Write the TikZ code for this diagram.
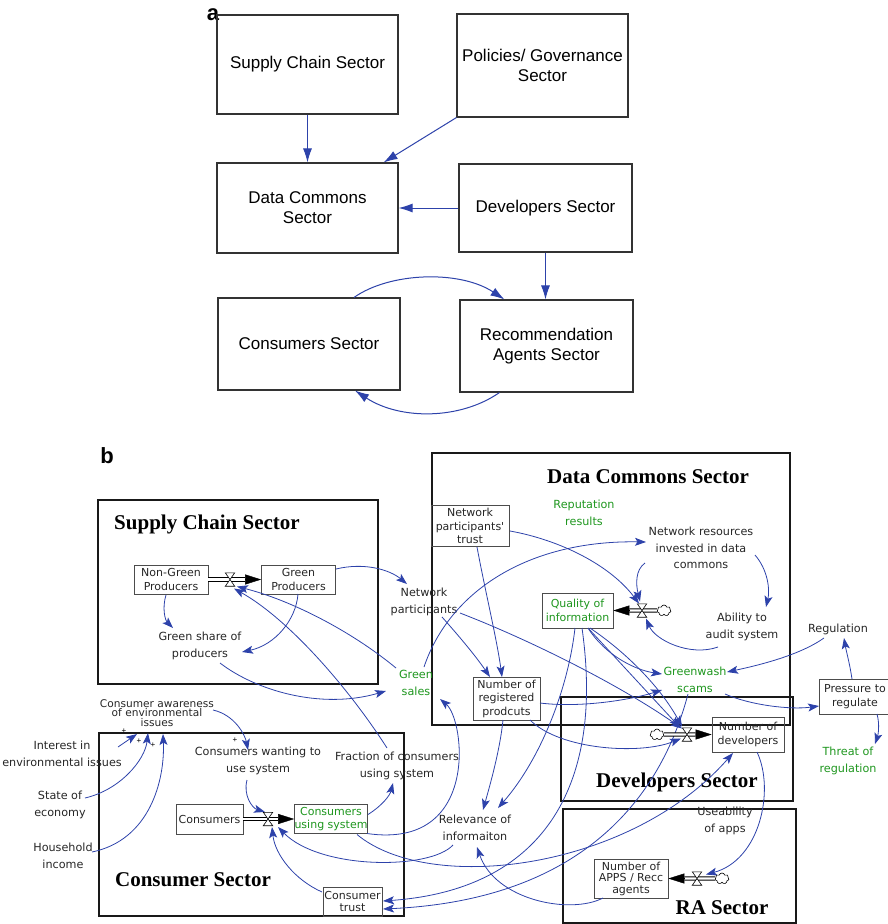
\documentclass[tikz,border=0pt]{standalone}
\usepackage{fontspec}
\setmainfont{Liberation Sans}
\newfontfamily\handfont{DejaVu Sans}
\newfontfamily\titlefont{Liberation Serif}
\usetikzlibrary{arrows.meta,calc,shapes.symbols}

\definecolor{linkblue}{RGB}{45,66,170}
\definecolor{vargreen}{RGB}{30,150,30}

\tikzset{
  abox/.style={draw=black!80, line width=1.1pt, align=center,
    font=\fontsize{17}{20}\selectfont, inner sep=0pt},
  alink/.style={draw=linkblue, line width=1pt, -{Latex[length=14pt,width=9pt]}},
  secbox/.style={draw=black!90, line width=1.5pt, inner sep=0pt},
  sectitle/.style={font=\titlefont\bfseries\fontsize{21}{24}\selectfont, inner sep=0pt},
  lbl/.style={font=\handfont\fontsize{11.2}{16.5}\selectfont, text=black!85,
    align=center, inner sep=0pt},
  glbl/.style={lbl, text=vargreen},
  stock/.style={draw=black!70, line width=0.7pt, align=center, inner sep=0pt,
    font=\handfont\fontsize{11}{13.5}\selectfont, text=black!85},
  gstock/.style={stock, text=vargreen},
  link/.style={draw=linkblue, line width=0.8pt,
    -{Stealth[length=11pt,width=8pt,inset=2.5pt]}},
  pipe/.style={draw=black, line width=0.85pt, double=white, double distance=2.4pt},
  flowtip/.style={draw=black, line width=0.4pt, -{Triangle[length=16pt,width=10pt]}},
  srccloud/.style={cloud, cloud puffs=7, aspect=1.3, draw=black, line width=0.6pt,
    fill=white, minimum width=14pt, minimum height=11pt, inner sep=0pt},
  plus/.style={font=\fontsize{8}{8}\selectfont, inner sep=0pt},
  panel/.style={font=\bfseries\fontsize{22}{22}\selectfont, inner sep=0pt}
}

% placeholder node for an hourglass-shaped flow valve
\newcommand\sdvalve[3]{%
  \node[inner sep=0pt, minimum width=9pt, minimum height=13pt] (#1) at (#2,#3) {};
}

\begin{document}
\begin{tikzpicture}[x=1pt,y=-1pt]
\useasboundingbox (0,0) rectangle (888,924);

% ---------------- panel a: sector overview ----------------
\node[panel] (la) at (213,15) {a};
\node[abox, minimum width=181pt, minimum height=99pt] (sc) at (307.5,64.5) {Supply Chain Sector};
\node[abox, minimum width=171pt, minimum height=103pt] (pg) at (542.5,65.5) {Policies/ Governance\\Sector};
\node[abox, minimum width=181pt, minimum height=90pt] (dc) at (307.5,208) {Data Commons\\Sector};
\node[abox, minimum width=173pt, minimum height=88pt] (dev) at (545.5,208) {Developers Sector};
\node[abox, minimum width=182pt, minimum height=92pt] (cs) at (309,344) {Consumers Sector};
\node[abox, minimum width=173pt, minimum height=92pt] (ras) at (546.5,346) {Recommendation\\Agents Sector};

\draw[alink] (sc) -- (dc);
\draw[alink] (pg.south west) -- ($(dc.north east)+(-15,0)$);
\draw[alink] (dev) -- (dc);
\draw[alink] (dev.south) -- (dev.south |- ras.north);
\draw[alink] ($(cs.north)+(45,0)$) .. controls (390,272) and (460,270) .. ($(ras.north west)+(45,0)$);
\draw[alink] ($(ras.south west)+(40,0)$) .. controls (460,420) and (400,420) .. ($(cs.south)+(46,0)$);

% ---------------- panel b: stock and flow model ----------------
\node[panel] (lb) at (107,456) {b};

% sector frames
\node[secbox, minimum width=280pt, minimum height=184pt] (scsec) at (238,592) {};
\node[secbox, minimum width=358pt, minimum height=272pt] (dcsec) at (611,589) {};
\node[secbox, minimum width=232pt, minimum height=104pt] (devsec) at (677,749) {};
\node[secbox, minimum width=233pt, minimum height=114pt] (rasec) at (679.5,866) {};
\node[secbox, minimum width=305pt, minimum height=183pt] (csec) at (251.5,824.5) {};

\node[sectitle] (scsect) at (207,524) {Supply Chain Sector};
\node[sectitle] (dcsect) at (648,477) {Data Commons Sector};
\node[sectitle] (devsect) at (677,782) {Developers Sector};
\node[sectitle] (rasect) at (722,908) {RA Sector};
\node[sectitle] (csect) at (193,880) {Consumer Sector};

% stocks
\node[stock, minimum width=74pt, minimum height=29pt] (ng) at (171,579.5) {Non-Green\\Producers};
\node[stock, minimum width=74pt, minimum height=29pt] (gp) at (298.5,579.5) {Green\\Producers};
\node[stock, minimum width=78pt, minimum height=41pt] (npt) at (470,526) {Network\\participants'\\trust};
\node[gstock, minimum width=71pt, minimum height=35pt] (qoi) at (577.5,610.5) {Quality of\\information};
\node[stock, minimum width=67pt, minimum height=43pt] (nrp) at (506.5,698.5) {Number of\\registered\\prodcuts};
\node[stock, minimum width=72pt, minimum height=35pt, text width=68pt] (pr) at (855,696.5) {Pressure to\\regulate};
\node[stock, minimum width=72pt, minimum height=35pt] (nd) at (748,734.5) {Number of\\developers};
\node[stock, minimum width=74pt, minimum height=39pt, font=\handfont\fontsize{11}{11.5}\selectfont] (nar) at (631,878.5) {Number of\\APPS / Recc\\agents};
\node[stock, minimum width=67pt, minimum height=30pt] (cons) at (209.5,819) {Consumers};
\node[gstock, minimum width=72pt, minimum height=29pt] (cus) at (331,819) {Consumers\\using system};
\node[stock, minimum width=59pt, minimum height=29pt, font=\handfont\fontsize{11}{12}\selectfont] (ct) at (352.5,901.5) {Consumer\\trust};

% auxiliary variables
\node[lbl] (gsp) at (200,646) {Green share of\\producers};
\node[lbl] (np) at (424,602) {Network\\participants};
\node[glbl] (gs) at (416,683) {Green\\sales};
\node[glbl] (rr) at (584,513) {Reputation\\results};
\node[lbl] (nr) at (701,548) {Network resources\\invested in data\\commons};
\node[lbl] (aud) at (742,627) {Ability to\\audit system};
\node[lbl] (reg) at (838,629) {Regulation};
\node[glbl] (gw) at (695,680) {Greenwash\\scams};
\node[glbl] (thr) at (848,761) {Threat of\\regulation};
\node[lbl] (use) at (725,821) {Useability\\of apps};
\node[lbl] (rel) at (475,828) {Relevance of\\informaiton};
\node[lbl, font=\handfont\fontsize{10.6}{9.5}\selectfont] (ca) at (157,713) {Consumer awareness\\of environmental\\issues};
\node[lbl] (int) at (62,754) {Interest in\\environmental issues};
\node[lbl] (soe) at (60,805) {State of\\economy};
\node[lbl] (hh) at (63,856) {Household\\income};
\node[lbl] (cw) at (258,761) {Consumers wanting to\\use system};
\node[lbl] (fr) at (397,766) {Fraction of consumers\\using system};

\node[plus] (p1) at (124,731) {+};
\node[plus] (p2) at (139,741) {+};
\node[plus] (p3) at (153,745) {+};
\node[plus] (p4) at (235,740) {+};

% flow valves
\sdvalve{v1}{230}{579.5}
\sdvalve{v2}{642}{610.5}
\sdvalve{v3}{687}{734.5}
\sdvalve{v4}{697}{878.5}
\sdvalve{v5}{268}{819}

% causal links
\draw[link] ($(ng)+(-5,15.5)$) .. controls (162,608) and (165,620) .. ($(gsp)+(-27,-18)$);
\draw[link] ($(gp)+(-0.5,14.5)$) .. controls (296,620) and (275,645) .. ($(gsp)+(42,6)$);
\draw[link] ($(gp)+(37.5,-10.5)$) .. controls (365,562) and (390,570) .. ($(np)+(-17,-18)$);
\draw[link] ($(gsp)+(20,17)$) .. controls (255,690) and (320,710) .. ($(gs)+(-30,8)$);
\draw[link] ($(gs)+(-20,-15)$) .. controls (350,630) and (290,600) .. ($(v1)+(7,7)$);
\draw[link] ($(fr)+(-10,-18)$) .. controls (350,690) and (290,620) .. ($(v1)+(4,9)$);
\draw[link] ($(np)+(18,15)$) .. controls (458,635) and (475,655) .. ($(nrp)+(-16.5,-21.5)$);
\draw[link] ($(np)+(36,11)$) .. controls (530,640) and (620,685) .. ($(v3)+(-5,-6)$);
\draw[link] ($(npt)+(7,21)$) .. controls (485,590) and (497,640) .. ($(nrp)+(-4.5,-21.5)$);
\draw[link] ($(npt)+(40,5)$) .. controls (560,540) and (610,565) .. ($(v2)+(-3,-7)$);
\draw[link] ($(gs)+(8,-16)$) .. controls (450,590) and (530,540) .. ($(nr)+(-55,-6)$);
\draw[link] ($(nr)+(-56,15)$) .. controls (635,570) and (636,585) .. ($(v2)+(-2,-9)$);
\draw[link] ($(nr)+(54,7)$) .. controls (768,570) and (770,590) .. ($(aud)+(24,-20)$);
\draw[link] ($(aud)+(-24,20)$) .. controls (690,657) and (655,640) .. ($(v2)+(4,8)$);
\draw[link] ($(reg)+(-14,9)$) .. controls (800,655) and (760,665) .. ($(gw)+(32,-8)$);
\draw[link] ($(pr)+(-3,-17.5)$) .. controls (850,665) and (846,650) .. ($(reg)+(6,9)$);
\draw[link] ($(pr)+(22,17.5)$) .. controls (880,725) and (878,735) .. ($(thr)+(27,-17)$);
\draw[link] ($(gw)+(30,14)$) .. controls (750,705) and (790,710) .. ($(pr)+(-36,9.5)$);
\draw[link] ($(qoi)+(10.5,17.5)$) .. controls (605,655) and (635,670) .. ($(gw)+(-33,-6)$);
\draw[link] ($(nrp)+(33.5,4.5)$) .. controls (580,708) and (630,700) .. ($(gw)+(-33,10)$);
\draw[link] ($(qoi)+(10.5,17.5)$) -- ($(v3)+(-7,-7)$);
\draw[link] ($(qoi)+(12.5,17.5)$) .. controls (630,655) and (662,690) .. ($(v3)+(-5,-8)$);
\draw[link] ($(qoi)+(-2.5,17.5)$) .. controls (568,690) and (540,760) .. ($(rel)+(23,-20)$);
\draw[link] ($(qoi)+(4.5,17.5)$) .. controls (605,790) and (540,890) .. ($(ct)+(30.5,-0.5)$);
\draw[link] ($(gw)+(-7,14)$) .. controls (660,800) and (580,900) .. ($(ct)+(30.5,7.5)$);
\draw[link] ($(nrp)+(-3.5,21.5)$) .. controls (500,750) and (490,785) .. ($(rel)+(8,-18)$);
\draw[link] ($(nrp)+(23.5,21.5)$) .. controls (560,750) and (640,755) .. ($(v3)+(-6,4)$);
\draw[link] ($(nd)+(9,17.5)$) .. controls (775,790) and (760,860) .. ($(v4)+(9,-4)$);
\draw[link] ($(nar)+(-28,19.5)$) .. controls (570,915) and (495,900) .. ($(rel)+(2,19)$);
\draw[link] ($(rel)+(-22,17)$) .. controls (430,870) and (320,870) .. ($(v5)+(10,8)$);
\draw[link] ($(ct)+(-30.5,-9.5)$) .. controls (295,880) and (275,855) .. ($(v5)+(4,8)$);
\draw[link] ($(cw)+(-11,19)$) .. controls (243,795) and (252,808) .. ($(v5)+(-3,-7)$);
\draw[link] ($(cus)+(37,-4.5)$) .. controls (383,805) and (390,795) .. ($(fr)+(-4,17)$);
\draw[link] ($(cus)+(36,14.5)$) .. controls (480,850) and (465,720) .. ($(gs)+(24,16)$);
\draw[link] ($(cus)+(26,15.5)$) .. controls (430,895) and (630,870) .. ($(nd)+(-15,18.5)$);
\draw[link] ($(ca)+(56,-3)$) .. controls (235,715) and (245,735) .. ($(cw)+(-10,-11)$);
\draw[link] ($(int)+(56,-7)$) -- ($(ca)+(-20,21)$);
\draw[link] ($(soe)+(25,-7)$) .. controls (120,790) and (145,760) .. ($(ca)+(-9,20)$);
\draw[link] ($(hh)+(29,-4)$) .. controls (150,840) and (165,780) .. ($(ca)+(6,21)$);

% material flows: sources, pipes, tips, then valves on top
\node[srccloud] (cl2) at (664,610.5) {};
\node[srccloud] (cl3) at (657,734.5) {};
\node[srccloud] (cl4) at (722,878.5) {};

\draw[pipe] (ng.east) -- (v1.center) -- ($(gp.west)+(-16,0)$);
\draw[flowtip] ($(gp.west)+(-16,0)$) -- (gp.west);
\draw[pipe] (cl2.west) -- (v2.center) -- ($(qoi.east)+(16,0)$);
\draw[flowtip] ($(qoi.east)+(16,0)$) -- (qoi.east);
\draw[pipe] (cl3.east) -- (v3.center) -- ($(nd.west)+(-16,0)$);
\draw[flowtip] ($(nd.west)+(-16,0)$) -- (nd.west);
\draw[pipe] (cl4.west) -- (v4.center) -- ($(nar.east)+(16,0)$);
\draw[flowtip] ($(nar.east)+(16,0)$) -- (nar.east);
\draw[pipe] (cons.east) -- (v5.center) -- ($(cus.west)+(-16,0)$);
\draw[flowtip] ($(cus.west)+(-16,0)$) -- (cus.west);

\foreach \v in {v1,v2,v3,v4,v5}{
  \draw[black, line width=0.6pt, fill=white]
    (\v.north west) -- (\v.north east) -- (\v.south west) -- (\v.south east) -- cycle;
}
\end{tikzpicture}
\end{document}
